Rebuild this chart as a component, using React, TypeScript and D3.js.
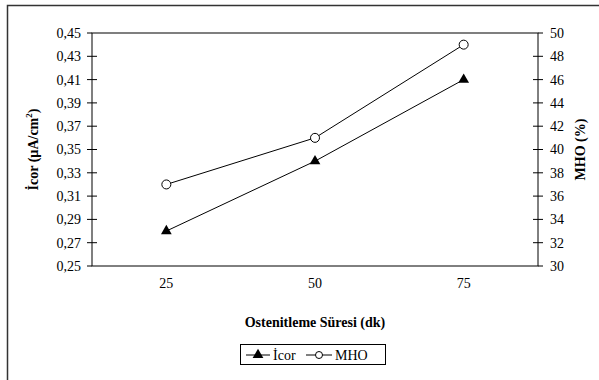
import React, { useEffect, useRef } from "react";
import * as d3 from "d3";

const categories = ["25", "50", "75"];
const icor = [0.28, 0.34, 0.41];
const mho = [37, 41, 49];
const leftTicks = [0.25, 0.27, 0.29, 0.31, 0.33, 0.35, 0.37, 0.39, 0.41, 0.43, 0.45];
const rightTicks = [30, 32, 34, 36, 38, 40, 42, 44, 46, 48, 50];

const App = () => {
    const svgRef = useRef<SVGSVGElement>(null);

    useEffect(() => {
        const width = 599;
        const height = 380;
        const m = { left: 92, right: 538, top: 33, bottom: 266 };

        const svg = d3.select(svgRef.current).attr("width", width).attr("height", height)
            .style("font-family", "\"Liberation Serif\", \"DejaVu Serif\", serif");
        svg.selectAll("*").remove();

        // outer frame
        svg.append("rect")
            .attr("x", 7.5).attr("y", 5.5)
            .attr("width", 620).attr("height", 420)
            .attr("fill", "white").attr("stroke", "#333").attr("stroke-width", 1.5);

        const x = d3.scaleBand().domain(categories).range([m.left, m.right]);
        const yL = d3.scaleLinear().domain([0.25, 0.45]).range([m.bottom, m.top]);
        const yR = d3.scaleLinear().domain([30, 50]).range([m.bottom, m.top]);

        // plot box
        svg.append("rect")
            .attr("x", m.left).attr("y", m.top)
            .attr("width", m.right - m.left).attr("height", m.bottom - m.top)
            .attr("fill", "none").attr("stroke", "black").attr("stroke-width", 1);

        // left ticks
        const gl = svg.append("g");
        gl.selectAll("line").data(leftTicks).enter().append("line")
            .attr("x1", m.left - 5)
            .attr("x2", (d, i) => (i === 0 || i === leftTicks.length - 1 ? m.left : m.left + 5))
            .attr("y1", (d) => yL(d)).attr("y2", (d) => yL(d))
            .attr("stroke", "black");
        gl.selectAll("text").data(leftTicks).enter().append("text")
            .attr("x", m.left - 11).attr("y", (d) => yL(d))
            .attr("dy", "0.35em").attr("text-anchor", "end")
            .attr("font-size", 14)
            .text((d) => d3.format(".2f")(d).replace(".", ","));

        // right ticks
        const gr = svg.append("g");
        gr.selectAll("line").data(rightTicks).enter().append("line")
            .attr("x1", (d, i) => (i === 0 || i === rightTicks.length - 1 ? m.right : m.right - 5))
            .attr("x2", m.right + 5)
            .attr("y1", (d) => yR(d)).attr("y2", (d) => yR(d))
            .attr("stroke", "black");
        gr.selectAll("text").data(rightTicks).enter().append("text")
            .attr("x", m.right + 12).attr("y", (d) => yR(d))
            .attr("dy", "0.35em").attr("text-anchor", "start")
            .attr("font-size", 14)
            .text((d) => d);

        // x labels
        svg.append("g").selectAll("text").data(categories).enter().append("text")
            .attr("x", (d) => x(d)! + x.bandwidth() / 2).attr("y", 288)
            .attr("text-anchor", "middle")
            .attr("font-size", 14)
            .text((d) => d);

        // axis titles
        svg.append("text")
            .attr("x", (m.left + m.right) / 2).attr("y", 327)
            .attr("text-anchor", "middle")
            .attr("font-size", 14).attr("font-weight", "bold")
            .text("Ostenitleme Süresi (dk)");

        const lt = svg.append("text")
            .attr("transform", `translate(38,${(m.top + m.bottom) / 2}) rotate(-90)`)
            .attr("text-anchor", "middle")
            .attr("font-size", 14).attr("font-weight", "bold");
        lt.append("tspan").text("İcor (µA/cm");
        lt.append("tspan").attr("dy", -6).attr("font-size", 9).text("2");
        lt.append("tspan").attr("dy", 6).text(")");

        svg.append("text")
            .attr("transform", `translate(585,${(m.top + m.bottom) / 2}) rotate(-90)`)
            .attr("text-anchor", "middle")
            .attr("font-size", 14).attr("font-weight", "bold")
            .text("MHO (%)");

        const cx = (i: number) => x(categories[i])! + x.bandwidth() / 2;
        const tri = d3.symbol().type(d3.symbolTriangle).size(50);

        // İcor line
        svg.append("path")
            .datum(icor)
            .attr("d", d3.line<number>().x((d, i) => cx(i)).y((d) => yL(d)))
            .attr("fill", "none").attr("stroke", "black").attr("stroke-width", 1);
        svg.append("g").selectAll("path").data(icor).enter().append("path")
            .attr("d", tri)
            .attr("transform", (d, i) => `translate(${cx(i)},${yL(d)})`)
            .attr("fill", "black");

        // MHO line
        svg.append("path")
            .datum(mho)
            .attr("d", d3.line<number>().x((d, i) => cx(i)).y((d) => yR(d)))
            .attr("fill", "none").attr("stroke", "black").attr("stroke-width", 1);
        svg.append("g").selectAll("circle").data(mho).enter().append("circle")
            .attr("cx", (d, i) => cx(i)).attr("cy", (d) => yR(d)).attr("r", 4.5)
            .attr("fill", "white").attr("stroke", "black");

        // legend
        const lg = svg.append("g").attr("transform", "translate(240,344)");
        lg.append("rect").attr("x", 0.5).attr("y", 0.5).attr("width", 145).attr("height", 20)
            .attr("fill", "white").attr("stroke", "black");
        lg.append("line").attr("x1", 6).attr("x2", 30).attr("y1", 11).attr("y2", 11).attr("stroke", "black");
        lg.append("path").attr("d", tri).attr("transform", "translate(18,11)").attr("fill", "black");
        lg.append("text").attr("x", 33).attr("y", 11).attr("dy", "0.35em")
            .attr("font-size", 14).text("İcor");
        lg.append("line").attr("x1", 66).attr("x2", 92).attr("y1", 11).attr("y2", 11).attr("stroke", "black");
        lg.append("circle").attr("cx", 79).attr("cy", 11).attr("r", 3.5)
            .attr("fill", "white").attr("stroke", "black");
        lg.append("text").attr("x", 95).attr("y", 11).attr("dy", "0.35em")
            .attr("font-size", 14).text("MHO");
    }, []);

    return <svg ref={svgRef} style={{ position: "absolute", left: 0, top: 0 }}></svg>;
};

export default App;
